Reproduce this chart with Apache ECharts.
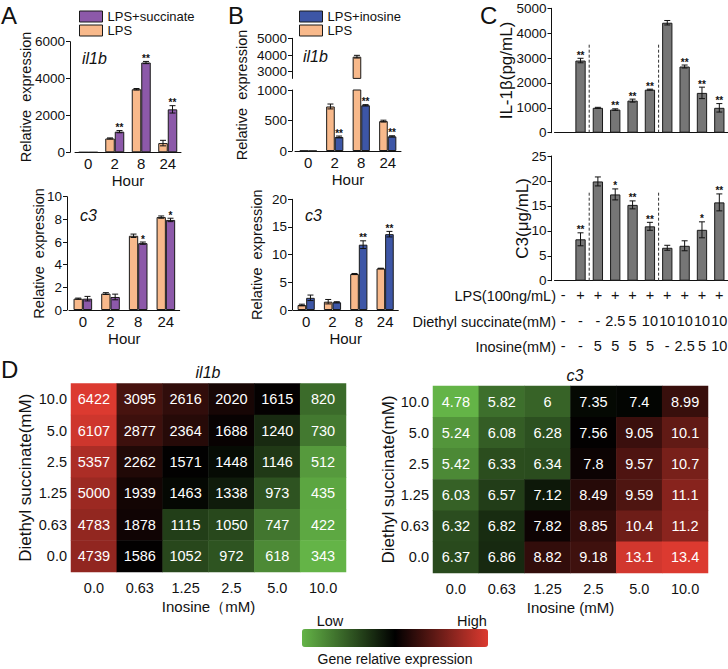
<!DOCTYPE html>
<html>
<head>
<meta charset="utf-8">
<script src="https://cdn.jsdelivr.net/npm/echarts@6/dist/echarts.min.js"></script>
<style>
html, body { margin: 0; padding: 0; background: #fff; }
#chart { width: 728px; height: 669px; }
</style>
</head>
<body>
<div id="chart"></div>
<script>
// ---------- data ----------
var hours = ['0', '2', '8', '24'];

// A: LPS vs LPS+succinate
var aIl1bLps = [1, 750, 3420, 500];
var aIl1bLpsErr = [0, 30, 40, 150];
var aIl1bSuc = [1, 1120, 4870, 2330];
var aIl1bSucErr = [0, 60, 60, 200];
var aIl1bSucSig = ['', '**', '**', '**'];
var aC3Lps = [1.0, 1.45, 6.55, 8.2];
var aC3LpsErr = [0.05, 0.08, 0.15, 0.1];
var aC3Suc = [1.0, 1.15, 5.9, 7.95];
var aC3SucErr = [0.2, 0.25, 0.1, 0.15];
var aC3SucSig = ['', '', '*', '*'];

// B: LPS vs LPS+inosine
var bIl1bLps = [5, 730, 3900, 490];
var bIl1bLpsErr = [0, 40, 80, 15];
var bIl1bIno = [2, 230, 750, 240];
var bIl1bInoErr = [0, 15, 10, 10];
var bIl1bInoSig = ['', '**', '**', '**'];
var bC3Lps = [0.9, 1.5, 6.5, 7.5];
var bC3LpsErr = [0.15, 0.4, 0.1, 0.05];
var bC3Ino = [2.2, 1.4, 11.8, 13.7];
var bC3InoErr = [0.5, 0.1, 0.7, 0.5];
var bC3InoSig = ['', '', '**', '**'];

// C: treatment table + ELISA
var cLps = ['-', '+', '+', '+', '+', '+', '+', '+', '+', '+'];
var cSuc = ['-', '-', '-', '2.5', '5', '10', '10', '10', '10', '10'];
var cIno = ['-', '-', '5', '5', '5', '5', '-', '2.5', '5', '10'];
var cIl1b = [null, 2900, 1000, 930, 1290, 1730, 4420, 2660, 1600, 1000];
var cIl1bErr = [0, 90, 20, 30, 60, 20, 90, 60, 230, 170];
var cIl1bSig = ['', '**', '', '**', '**', '**', '', '**', '**', '**'];
var cC3 = [null, 8.3, 19.9, 17.3, 15.2, 10.9, 6.6, 7.0, 10.2, 15.7];
var cC3Err = [0, 1.3, 0.9, 1.1, 0.8, 0.8, 0.5, 1.0, 1.6, 1.7];
var cC3Sig = ['', '**', '', '*', '**', '**', '', '', '*', '**'];
var cBreaks = [1, 5];
var cBreakIl1b = 3600;
var cBreakC3 = 18;

// D: heatmaps (rows top -> bottom = diethyl succinate 10.0 ... 0.0)
var inosineDose = ['0.0', '0.63', '1.25', '2.5', '5.0', '10.0'];
var succinateDose = ['10.0', '5.0', '2.5', '1.25', '0.63', '0.0'];
var dIl1b = [
  [6422, 3095, 2616, 2020, 1615, 820],
  [6107, 2877, 2364, 1688, 1240, 730],
  [5357, 2262, 1571, 1448, 1146, 512],
  [5000, 1939, 1463, 1338, 973, 435],
  [4783, 1878, 1115, 1050, 747, 422],
  [4739, 1586, 1052, 972, 618, 343]
];
var dC3 = [
  [4.78, 5.82, 6, 7.35, 7.4, 8.99],
  [5.24, 6.08, 6.28, 7.56, 9.05, 10.1],
  [5.42, 6.33, 6.34, 7.8, 9.57, 10.7],
  [6.03, 6.57, 7.12, 8.49, 9.59, 11.1],
  [6.32, 6.82, 7.82, 8.85, 10.4, 11.2],
  [6.37, 6.86, 8.82, 9.18, 13.1, 13.4]
];

// ---------- helpers ----------
var FONT = "'Liberation Sans', Arial, sans-serif";
var INK = '#111';
var ORANGE = '#f8b98b', PURPLE = '#8c59a9', BLUE = '#3d56a6', GREY = '#767676';

function heatData(matrix) {
  var flat = [].concat.apply([], matrix).sort(function (a, b) { return a - b; });
  var n = flat.length;
  var med = n % 2 ? flat[(n - 1) / 2] : (flat[n / 2 - 1] + flat[n / 2]) / 2;
  var lo = flat[0], hi = flat[n - 1];
  var out = [];
  matrix.forEach(function (row, r) {
    row.forEach(function (v, c) {
      var t = v <= med ? 0.5 * (v - lo) / (med - lo) : 0.5 + 0.5 * (v - med) / (hi - med);
      out.push([c, r, v, t]);
    });
  });
  return out;
}

function grid(left, top, width, height) {
  return { left: left, top: top, width: width, height: height, outerBoundsMode: 'none', containLabel: false };
}

function catAxis(gi, data, showLabel, name, showLine) {
  return {
    type: 'category', gridIndex: gi, data: data,
    axisLine: { show: showLine !== false, lineStyle: { color: INK, width: 1 } },
    axisTick: { show: false },
    axisLabel: { show: showLabel, fontSize: 15, color: INK, margin: 4 },
    name: name || '', nameLocation: 'middle', nameGap: 21, nameMoveOverlap: false,
    nameTextStyle: { fontSize: 15, color: INK }
  };
}

function plain(v) { return String(v); }

function valAxis(gi, min, max, interval, name, nameGap, offset, fs) {
  return {
    type: 'value', gridIndex: gi, min: min, max: max, interval: interval, offset: offset || 0,
    name: name || '', nameLocation: 'middle', nameGap: nameGap, nameMoveOverlap: false,
    nameTextStyle: { fontSize: fs || 14.5, color: INK },
    axisLine: { show: true, lineStyle: { color: INK, width: 1 } },
    axisTick: { show: true, length: 4, lineStyle: { color: INK } },
    axisLabel: { fontSize: 13.5, color: INK, margin: 5, formatter: plain },
    splitLine: { show: false }
  };
}

function bars(name, ai, values, color, barW) {
  return {
    type: 'bar', name: name, xAxisIndex: ai, yAxisIndex: ai, data: values,
    barWidth: barW, barGap: '0%', silent: true,
    itemStyle: { color: color, borderColor: '#1a1a1a', borderWidth: 1 }
  };
}

function errors(ai, means, errs, sigs, side, barW, lo, hi) {
  return {
    type: 'custom', xAxisIndex: ai, yAxisIndex: ai, silent: true, z: 5,
    data: means.map(function (m, i) { return [i, m == null ? NaN : m, errs[i]]; }),
    renderItem: function (params, api) {
      var i = api.value(0), m = api.value(1), e = api.value(2);
      var kids = [];
      if (isNaN(m) || m > hi || m + e < lo) return { type: 'group', children: kids };
      var x = api.coord([i, m])[0] + side * barW / 2;
      var yT = api.coord([i, Math.min(m + e, hi)])[1];
      var yB = api.coord([i, Math.max(m - e, lo)])[1];
      var st = { stroke: INK, lineWidth: 1 };
      if (e > 0) {
        kids.push({ type: 'line', shape: { x1: x, y1: yT, x2: x, y2: yB }, style: st });
        kids.push({ type: 'line', shape: { x1: x - 3, y1: yT, x2: x + 3, y2: yT }, style: st });
        kids.push({ type: 'line', shape: { x1: x - 3, y1: yB, x2: x + 3, y2: yB }, style: st });
      }
      var s = sigs ? sigs[params.dataIndex] : '';
      if (s) {
        kids.push({ type: 'text', x: x, y: yT + 2, style: { text: s, align: 'center', verticalAlign: 'bottom', fontSize: 10, fontWeight: 'bold', fill: INK, fontFamily: FONT } });
      }
      return { type: 'group', children: kids };
    }
  };
}

function separators(ai, breaks, h) {
  return {
    type: 'custom', xAxisIndex: ai, yAxisIndex: ai, silent: true, z: 4,
    data: breaks.map(function (b) { return [b, h]; }),
    renderItem: function (params, api) {
      var b = api.value(0);
      var p1 = api.coord([b, 0]), p2 = api.coord([b + 1, 0]);
      var yT = api.coord([b, api.value(1)])[1];
      var x = (p1[0] + p2[0]) / 2;
      return { type: 'line', shape: { x1: x, y1: p1[1], x2: x, y2: yT }, style: { stroke: '#333', lineWidth: 1, lineDash: [3, 2] } };
    }
  };
}

function txt(text, x, y, size, opts) {
  opts = opts || {};
  return {
    type: 'text', x: x, y: y, silent: true, rotation: opts.rot || 0,
    style: { text: text, fontSize: size, fontFamily: FONT, fill: INK, align: opts.align || 'left', verticalAlign: 'middle', fontStyle: opts.italic ? 'italic' : 'normal' }
  };
}

function heatAxisX(gi, name) {
  return {
    type: 'category', gridIndex: gi, data: inosineDose,
    axisLine: { show: false }, axisTick: { show: false },
    axisLabel: { fontSize: 14.5, color: INK, margin: 8 },
    name: name, nameLocation: 'middle', nameGap: 27, nameMoveOverlap: false,
    nameTextStyle: { fontSize: 15, color: INK }
  };
}

function heatAxisY(gi, gap) {
  return {
    type: 'category', gridIndex: gi, data: succinateDose, inverse: true,
    axisLine: { show: false }, axisTick: { show: false },
    axisLabel: { fontSize: 14.5, color: INK, margin: 4 },
    name: 'Diethyl succinate(mM)', nameLocation: 'middle', nameGap: gap, nameMoveOverlap: false,
    nameTextStyle: { fontSize: 17, color: INK }
  };
}

// ---------- chart ----------
var chart = echarts.init(document.getElementById('chart'), null, { renderer: 'svg' });

var heatLabel = { show: true, color: '#fff', fontSize: 14.5, formatter: function (p) { return p.value[2]; } };

var bUpper = valAxis(2, 2600, 5000, 1000, '', 0, 3);
bUpper.axisTick.customValues = [3000, 4000, 5000];
bUpper.axisLabel.customValues = [3000, 4000, 5000];

var cTopY = valAxis(5, 0, 5000, 1000, 'IL-1\u03b2(pg/mL)', 37, 3, 17);
var cBotY = valAxis(6, 0, 25, 5, 'C3(\u03bcg/mL)', 21, 3, 17);

var option = {
  animation: false,
  backgroundColor: '#fff',
  textStyle: { fontFamily: FONT, color: INK },
  grid: [
    grid(75, 41.7, 106, 110.6),     // 0 A il1b
    grid(69, 196.7, 110.7, 113.3),  // 1 A c3
    grid(295, 38.3, 106, 40.1),     // 2 B il1b upper
    grid(295, 90, 106, 61),         // 3 B il1b lower
    grid(293, 199.3, 105.3, 110.7), // 4 B c3
    grid(554.5, 8.3, 173.5, 124.4), // 5 C IL-1b
    grid(554.5, 156, 173.5, 124.7), // 6 C C3
    grid(71, 383.5, 275, 188.5),    // 7 D il1b
    grid(433, 386, 275, 187)        // 8 D c3
  ],
  xAxis: [
    catAxis(0, hours, true, 'Hour'),
    catAxis(1, hours, true, 'Hour'),
    catAxis(2, hours, false, '', false),
    catAxis(3, hours, true, 'Hour'),
    catAxis(4, hours, true, 'Hour'),
    catAxis(5, cLps, false),
    {
      type: 'category', gridIndex: 6, data: cLps,
      axisLine: { show: true, lineStyle: { color: INK } }, axisTick: { show: false },
      axisLabel: {
        interval: 0, fontSize: 14.5, color: INK, margin: 2, lineHeight: 25.5,
        formatter: function (v, i) { return cLps[i] + '\n' + cSuc[i] + '\n' + cIno[i]; }
      }
    },
    heatAxisX(7, 'Inosine\uff08mM)'),
    heatAxisX(8, 'Inosine (mM)')
  ],
  yAxis: [
    valAxis(0, 0, 6000, 2000, 'Relative  expression', 37, 5),
    valAxis(1, 0, 10, 2, 'Relative  expression', 21, 2),
    bUpper,
    valAxis(3, 0, 1000, 500, '', 0, 3),
    valAxis(4, 0, 20, 5, 'Relative  expression', 28, 1),
    cTopY,
    cBotY,
    heatAxisY(7, 37),
    heatAxisY(8, 36)
  ],
  legend: [
    {
      left: 79, top: 10, orient: 'vertical', icon: 'rect', itemWidth: 23, itemHeight: 11, itemGap: 1, padding: 0,
      selectedMode: false, data: ['LPS+succinate', 'LPS'],
      itemStyle: { borderColor: '#1a1a1a', borderWidth: 1 },
      textStyle: { fontSize: 13, lineHeight: 11, color: INK }
    },
    {
      left: 299, top: 10, orient: 'vertical', icon: 'rect', itemWidth: 23, itemHeight: 11, itemGap: 1, padding: 0,
      selectedMode: false, data: ['LPS+inosine', 'LPS'],
      itemStyle: { borderColor: '#1a1a1a', borderWidth: 1 },
      textStyle: { fontSize: 13, lineHeight: 11, color: INK }
    }
  ],
  visualMap: {
    type: 'continuous', seriesIndex: [25, 26], dimension: 3, min: 0, max: 1,
    orient: 'horizontal', left: 302, top: 629, itemWidth: 18, itemHeight: 186, padding: 0,
    calculable: false, hoverLink: false,
    inRange: { color: ['#64b447', '#000000', '#dc3a30'] }
  },
  series: [
    // A il1b (0-3)
    bars('LPS', 0, aIl1bLps, ORANGE, 9.5),
    bars('LPS+succinate', 0, aIl1bSuc, PURPLE, 9.5),
    errors(0, aIl1bLps, aIl1bLpsErr, null, -1, 9.5, 0, 6000),
    errors(0, aIl1bSuc, aIl1bSucErr, aIl1bSucSig, 1, 9.5, 0, 6000),
    // A c3 (4-7)
    bars('LPS', 1, aC3Lps, ORANGE, 9.3),
    bars('LPS+succinate', 1, aC3Suc, PURPLE, 9.3),
    errors(1, aC3Lps, aC3LpsErr, null, -1, 9.3, 0, 10),
    errors(1, aC3Suc, aC3SucErr, aC3SucSig, 1, 9.3, 0, 10),
    // B il1b upper (8-10)
    bars('LPS', 2, bIl1bLps, ORANGE, 8.6),
    bars('LPS+inosine', 2, bIl1bIno, BLUE, 8.6),
    errors(2, bIl1bLps, bIl1bLpsErr, null, -1, 8.6, 2600, 5000),
    // B il1b lower (11-14)
    bars('LPS', 3, bIl1bLps, ORANGE, 8.6),
    bars('LPS+inosine', 3, bIl1bIno, BLUE, 8.6),
    errors(3, bIl1bLps, bIl1bLpsErr, null, -1, 8.6, 0, 1000),
    errors(3, bIl1bIno, bIl1bInoErr, bIl1bInoSig, 1, 8.6, 0, 1000),
    // B c3 (15-18)
    bars('LPS', 4, bC3Lps, ORANGE, 8.6),
    bars('LPS+inosine', 4, bC3Ino, BLUE, 8.6),
    errors(4, bC3Lps, bC3LpsErr, null, -1, 8.6, 0, 20),
    errors(4, bC3Ino, bC3InoErr, bC3InoSig, 1, 8.6, 0, 20),
    // C IL-1b (19-21)
    { type: 'bar', xAxisIndex: 5, yAxisIndex: 5, data: cIl1b, barWidth: 10.3, silent: true, itemStyle: { color: GREY, borderColor: '#1a1a1a', borderWidth: 1 } },
    errors(5, cIl1b, cIl1bErr, cIl1bSig, 0, 0, 0, 5000),
    separators(5, cBreaks, cBreakIl1b),
    // C C3 (22-24)
    { type: 'bar', xAxisIndex: 6, yAxisIndex: 6, data: cC3, barWidth: 10.3, silent: true, itemStyle: { color: GREY, borderColor: '#1a1a1a', borderWidth: 1 } },
    errors(6, cC3, cC3Err, cC3Sig, 0, 0, 0, 25),
    separators(6, cBreaks, cBreakC3),
    // D heatmaps (25-26)
    { type: 'heatmap', xAxisIndex: 7, yAxisIndex: 7, data: heatData(dIl1b), label: heatLabel, emphasis: { disabled: true }, silent: true },
    { type: 'heatmap', xAxisIndex: 8, yAxisIndex: 8, data: heatData(dC3), label: heatLabel, emphasis: { disabled: true }, silent: true }
  ],
  graphic: [
    txt('A', 1, 15, 24),
    txt('B', 228, 15, 24),
    txt('C', 480, 15, 24),
    txt('D', 1, 369, 24),
    txt('Relative  expression', 241.5, 95, 14.5, { rot: Math.PI / 2, align: 'center' }),
    txt('il1b', 82, 58, 16, { italic: true }),
    txt('il1b', 303, 56, 16, { italic: true }),
    txt('c3', 80, 215, 16, { italic: true }),
    txt('c3', 305, 215, 16, { italic: true }),
    txt('il1b', 208, 372, 16, { italic: true, align: 'center' }),
    txt('c3', 575, 375, 16, { italic: true, align: 'center' }),
    txt('LPS(100ng/mL)', 556, 296, 14.5, { align: 'right' }),
    txt('Diethyl succinate(mM)', 556, 322, 14.5, { align: 'right' }),
    txt('Inosine(mM)', 556, 347, 14.5, { align: 'right' }),
    txt('Low', 330, 621, 14.5, { align: 'center' }),
    txt('High', 472, 621, 14.5, { align: 'center' }),
    txt('Gene relative expression', 395, 659, 14, { align: 'center' })
  ]
};

chart.setOption(option);
</script>
</body>
</html>
